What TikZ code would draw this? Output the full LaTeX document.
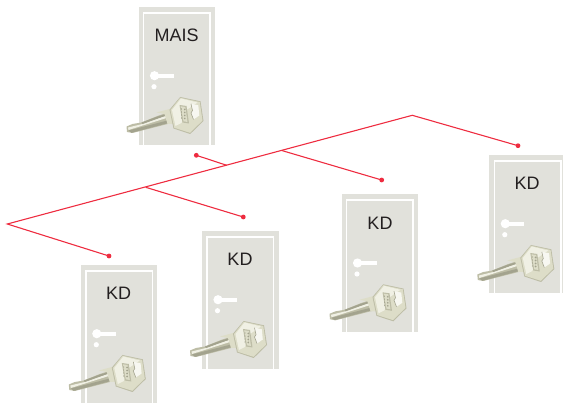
\documentclass[tikz,border=0pt]{standalone}
\usepackage{fontspec}
\setmainfont{Liberation Sans}
\definecolor{doorgrey}{HTML}{E1E1DB}
\definecolor{linered}{HTML}{EE2C40}
\definecolor{keymid}{HTML}{DDDDC8}
\definecolor{keydark}{HTML}{A3A38E}
\definecolor{keyedge}{HTML}{BDBDA6}
\definecolor{keylite}{HTML}{F0F0E4}
\definecolor{textdark}{HTML}{231F20}
\tikzset{
  wire/.style={draw=linered,line width=1.1pt},
  enddot/.style={circle,fill=linered,inner sep=0pt,minimum size=4.8pt},
  doorlabel/.style={text=textdark,font=\fontsize{18}{20}\selectfont,inner sep=0pt},
  pics/door/.style={code={
    \fill[doorgrey] (0,0) rectangle (76.5,138);
    \draw[white,line width=1.6pt] (5,138) -- (5,6) -- (71.5,6) -- (71.5,138);
    \fill[white] (16,68.7) circle (4.6);
    \fill[white] (18,67) rectangle (35,70.6);
    \fill[white] (15.5,79.7) circle (2.6);
    % key blade
    \fill[keyedge] (-11.5,125) -- (-12,119.5) -- (-6,117) -- (3,115.5) -- (19,109) -- (28,106) -- (33,116) -- (-6,126) -- cycle;
    \fill[keylite] (-10.5,120.5) -- (4,117) -- (19,111.5) -- (27,109) -- (28,111) -- (-10,123) -- cycle;
    \fill[keydark] (-10,123.5) -- (29,113.5) -- (30,116) -- (-7,125.8) -- cycle;
    \fill[keydark] (3,115.5) -- (19,109.5) -- (26,107.5) -- (26.5,109) -- (4,117) -- cycle;
    \fill[keymid] (18,105.5) -- (33,101.5) -- (37,117) -- (29,117) -- (26,107) -- cycle;
    % key head
    \fill[keyedge] (41.7,90) -- (62,94.3) -- (65,114) -- (51.7,127) -- (35,121.5) -- (31,102.7) -- cycle;
    \fill[keymid] (41.8,90.8) -- (61.3,95) -- (64,113.6) -- (51.5,125.8) -- (35.8,120.8) -- (32,103) -- cycle;
    \fill[keylite] (42.5,91.5) -- (59,95.5) -- (48,103) -- (43,116) -- (37,119) -- (33.5,103) -- cycle;
    % engraved panel and cut
    \fill[keyedge] (41,98) -- (48,99) -- (50.5,116.5) -- (44,115.5) -- cycle;
    \fill[keymid] (42.2,99.3) -- (46.8,100) -- (49,115) -- (45,114.3) -- cycle;
    \foreach \yy in {102,105,108,111}
      \fill[keydark] (43,\yy) ellipse (0.4 and 0.9) (46.3,\yy+.5) ellipse (0.9 and 1.0);
    \fill[white!75!keymid] (52.5,96.8) -- (59.8,98.3) -- (60.8,108.5) -- (55,112.5) -- (52.5,106) -- (54,103.5) -- cycle;
    \draw[keydark,line width=0.6pt] (52.5,96.8) -- (54,103.5) -- (52.5,106) -- (55,112.5);
  }}
}
\begin{document}
\begin{tikzpicture}[x=1pt,y=-1pt]
\useasboundingbox (0,0) rectangle (563,403);
\pic at (138.5,7) {door};
\pic at (80.8,265) {door};
\pic at (202,231) {door};
\pic at (341.5,194.3) {door};
\begin{scope}
\clip (0,0) rectangle (563,403);
\pic at (489.3,155) {door};
\end{scope}
\node[doorlabel] (mais) at (176.7,35) {MAIS};
\node[doorlabel] (kda) at (118.7,293.5) {KD};
\node[doorlabel] (kdb) at (240,259.5) {KD};
\node[doorlabel] (kdc) at (380,223) {KD};
\node[doorlabel] (kdd) at (527,183.5) {KD};
\coordinate (left) at (7.3,224);
\coordinate (top) at (412.3,115.3);
\coordinate (ja) at (145.7,187.3);
\coordinate (jb) at (226.7,165.3);
\coordinate (jc) at (281.7,150.5);
\node[enddot] (da) at (109,256) {};
\node[enddot] (db) at (243.3,217) {};
\node[enddot] (dc) at (381.7,180) {};
\node[enddot] (dd) at (518,145.7) {};
\node[enddot] (dm) at (196.3,155.3) {};
\draw[wire] (da.center) -- (left) -- (top) -- (dd.center);
\draw[wire] (ja) -- (db.center);
\draw[wire] (jb) -- (dm.center);
\draw[wire] (jc) -- (dc.center);
\end{tikzpicture}
\end{document}
